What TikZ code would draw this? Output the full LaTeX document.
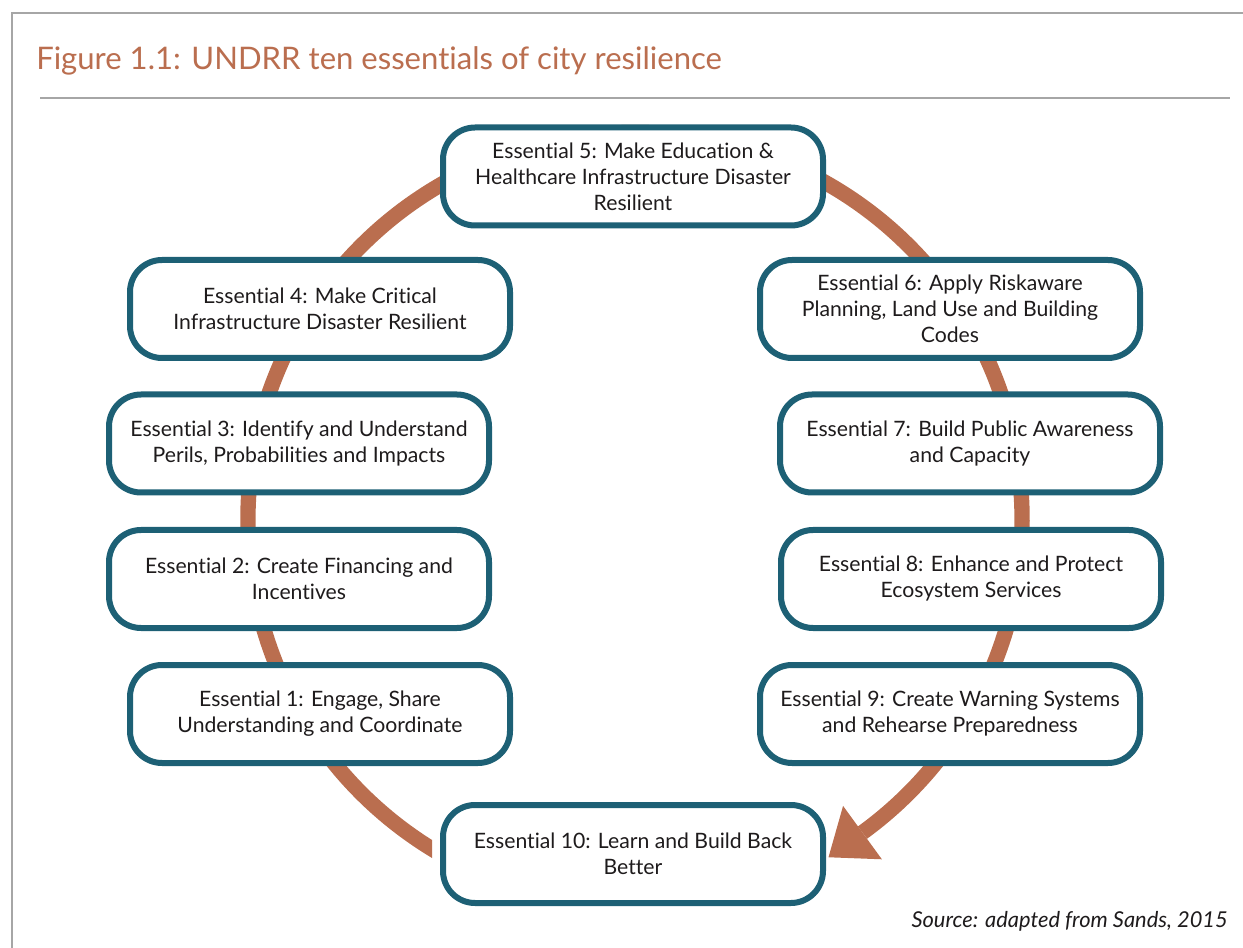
\documentclass[tikz,border=0pt]{standalone}
\usepackage{fontspec}
\setmainfont{Lato}[Ligatures=NoCommon]
\usetikzlibrary{calc}
\definecolor{teal}{RGB}{29,96,117}
\definecolor{brick}{RGB}{186,110,79}
\definecolor{ink}{RGB}{30,27,28}
\definecolor{framegray}{RGB}{166,166,166}
\tikzset{
  essbox/.style={draw=teal, line width=4.5pt, rounded corners=24pt, fill=white,
    minimum width=285pt, minimum height=73.5pt, align=center, text=ink,
    inner sep=0pt, font=\fontsize{15.9}{19.5}\selectfont},
  cyc/.style={draw=brick, line width=11.5pt},
  titletext/.style={text=brick, inner sep=0pt, font=\fontsize{23.3}{27}\selectfont},
  srctext/.style={text=ink, inner sep=0pt, font=\fontsize{16.4}{19}\selectfont\itshape}
}
\begin{document}
\begin{tikzpicture}[x=0.75pt,y=-0.75pt]
\useasboundingbox (0,0) rectangle (1243,948);
\coordinate (fa) at (12,948);
\coordinate (fb) at (12,13);
\coordinate (fc) at (1243,13);
\draw[framegray, line width=1.5pt] (fa) -- (fb) -- (fc);
\coordinate (sa) at (40,98);
\coordinate (sb) at (1230,98);
\draw[framegray, line width=1pt] (sa) -- (sb);
\node[titletext, anchor=base west] (title) at (36,70) {Figure 1.1: UNDRR ten essentials of city resilience};

\coordinate (C) at (635,519.5);
\begin{scope}
\clip (0,0) -- (1243,0) -- (1243,948) -- (441,948) -- (441,820) -- (432,820) -- (432,948) -- (0,948) -- cycle;
\draw[cyc] ($(C)+(118:387)$) arc[start angle=118, end angle=414, radius=387];
\end{scope}
\coordinate (b1) at ($(C)+(54:420)$);
\coordinate (b2) at ($(C)+(54:354)$);
\coordinate (tip) at ($(C)+(54:387)+(144:42)$);
\fill[brick] (b1) -- (tip) -- (b2) -- cycle;

\node[essbox] (e5) at (633,176.5) {Essential 5: Make Education \&\\Healthcare Infrastructure Disaster\\Resilient};
\node[essbox] (e4) at (320,309) {Essential 4: Make Critical\\Infrastructure Disaster Resilient};
\node[essbox] (e3) at (299,443.5) {Essential 3: Identify and Understand\\Perils, Probabilities and Impacts};
\node[essbox] (e2) at (299,579) {Essential 2: Create Financing and\\Incentives};
\node[essbox] (e1) at (320,714) {Essential 1: Engage, Share\\Understanding and Coordinate};
\node[essbox] (e10) at (633,854) {Essential 10: Learn and Build Back\\Better};
\node[essbox] (e6) at (950,309) {Essential 6: Apply Riskaware\\Planning, Land Use and Building\\Codes};
\node[essbox] (e7) at (970,443.5) {Essential 7: Build Public Awareness\\and Capacity};
\node[essbox] (e8) at (971,579) {Essential 8: Enhance and Protect\\Ecosystem Services};
\node[essbox] (e9) at (950,714) {Essential 9: Create Warning Systems\\and Rehearse Preparedness};

\node[srctext, anchor=base east] (src) at (1228,927) {Source: adapted from Sands, 2015};
\end{tikzpicture}
\end{document}
